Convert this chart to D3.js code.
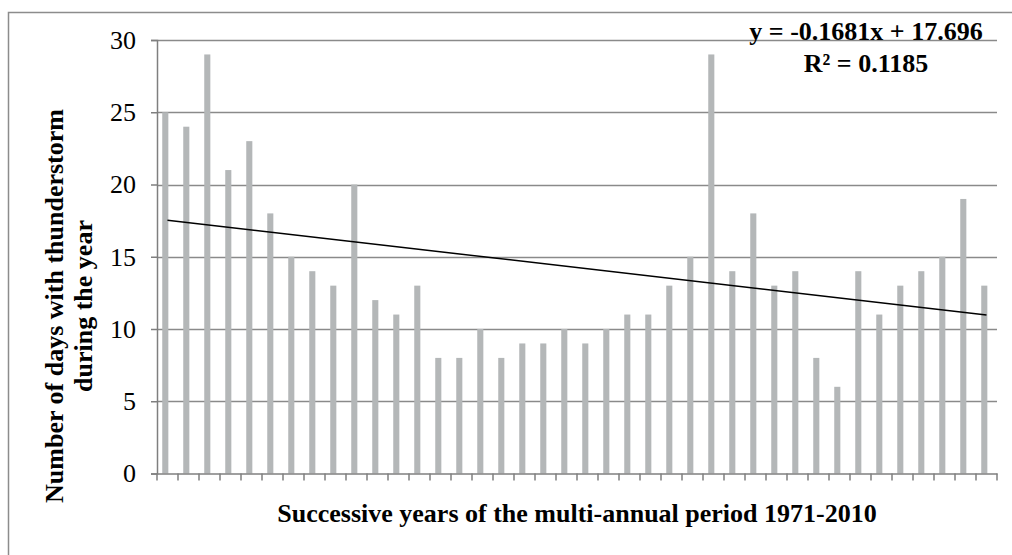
<!DOCTYPE html>
<html>
<head>
<meta charset="utf-8">
<script src="https://cdnjs.cloudflare.com/ajax/libs/d3/7.8.5/d3.min.js"></script>
<style>
	body { margin: 0; background: #fff; }
	svg { display: block; }
	text { font-family: "Liberation Serif", "Times New Roman", serif; fill: #000; }
</style>
</head>
<body>
<div id="chart"></div>
<script>
// data
// ----------------------------------------

var years = d3.range(1971, 2011);
var days = [25, 24, 29, 21, 23, 18, 15, 14, 13, 20,
	12, 11, 13, 8, 8, 10, 8, 9, 9, 10,
	9, 10, 11, 11, 13, 15, 29, 14, 18, 13,
	14, 8, 6, 14, 11, 13, 14, 15, 19, 13];
var y_ticks = [0, 5, 10, 15, 20, 25, 30];
var trend = {slope: -0.1681, intercept: 17.696};
var trend_label = ["y = -0.1681x + 17.696", "R\u00b2 = 0.1185"];

// main variables
// ----------------------------------------

var width = 1012,
	height = 555;

var margin = {top: 40, right: 15, bottom: 82, left: 157};

var svg = d3.select("#chart")
	.append("svg")
	.attr("width", width)
	.attr("height", height);

// outer frame (only top and left edges are visible)
svg.append("rect")
	.attr("x", 8.5)
	.attr("y", 12.5)
	.attr("width", width + 20)
	.attr("height", height + 20)
	.attr("fill", "none")
	.attr("stroke", "#8c8c8c")
	.attr("stroke-width", 1.5);

var x = d3.scaleBand()
	.domain(years)
	.range([margin.left, width - margin.right]);

var y = d3.scaleLinear()
	.domain([0, 30])
	.range([height - margin.bottom + 0.5, margin.top]);

// gridlines
svg.append("g")
	.attr("class", "grid")
	.selectAll("line")
	.data(y_ticks.slice(1))
	.enter()
	.append("line")
	.attr("x1", margin.left)
	.attr("x2", width - margin.right)
	.attr("y1", function(d) { return Math.round(y(d)) + 0.5; })
	.attr("y2", function(d) { return Math.round(y(d)) + 0.5; })
	.attr("stroke", "#8a8a8a")
	.attr("stroke-width", 1.5);

// bars
svg.append("g")
	.attr("class", "bars")
	.selectAll("rect")
	.data(days)
	.enter()
	.append("rect")
	.attr("x", function(d, i) { return x(years[i]) + x.bandwidth() * 0.25; })
	.attr("width", x.bandwidth() * 0.29)
	.attr("y", function(d) { return y(d); })
	.attr("height", function(d) { return y(0) - y(d); })
	.attr("fill", "#b4b7b8");

// axes
var y_axis = svg.append("g")
	.attr("transform", "translate(" + margin.left + ",0)")
	.call(d3.axisLeft(y).tickValues(y_ticks).tickSize(6).tickPadding(15));

var x_axis = svg.append("g")
	.attr("transform", "translate(0," + y(0) + ")")
	.call(d3.axisBottom(x).tickSize(0).tickFormat(""));

// x ticks between categories
x_axis.selectAll(".sep")
	.data(years.concat([null]))
	.enter()
	.append("line")
	.attr("class", "sep")
	.attr("x1", function(d, i) { return margin.left + i * x.step(); })
	.attr("x2", function(d, i) { return margin.left + i * x.step(); })
	.attr("y1", 0)
	.attr("y2", 7);

svg.selectAll(".domain, .tick line, .sep")
	.attr("stroke", "#7f7f7f")
	.attr("stroke-width", 1.5);

y_axis.selectAll(".tick text")
	.style("font-size", "26px")
	.style("font-family", "Liberation Serif")
	.attr("fill", "#000");

// trendline
svg.append("line")
	.attr("x1", x(years[0]) + x.bandwidth() / 2)
	.attr("x2", x(years[years.length - 1]) + x.bandwidth() / 2)
	.attr("y1", y(trend.slope * 1 + trend.intercept))
	.attr("y2", y(trend.slope * years.length + trend.intercept))
	.attr("stroke", "#000")
	.attr("stroke-width", 1.5);

// trend equation
svg.append("g")
	.selectAll("text")
	.data(trend_label)
	.enter()
	.append("text")
	.attr("x", 866)
	.attr("y", function(d, i) { return 40 + i * 32; })
	.attr("text-anchor", "middle")
	.style("font-size", "26px")
	.style("font-weight", "bold")
	.text(function(d) { return d; });

// axis titles
svg.append("text")
	.attr("x", (margin.left + width - margin.right) / 2)
	.attr("y", 522)
	.attr("text-anchor", "middle")
	.style("font-size", "26px")
	.style("font-weight", "bold")
	.text("Successive years of the multi-annual period 1971-2010");

var y_title = svg.append("text")
	.attr("transform", "translate(0,306) rotate(-90)")
	.attr("text-anchor", "middle")
	.style("font-size", "26px")
	.style("font-weight", "bold");

y_title.append("tspan").attr("x", 0).attr("y", 63).text("Number of days with thunderstorm");
y_title.append("tspan").attr("x", 0).attr("y", 92).text("during the year");
</script>
</body>
</html>
